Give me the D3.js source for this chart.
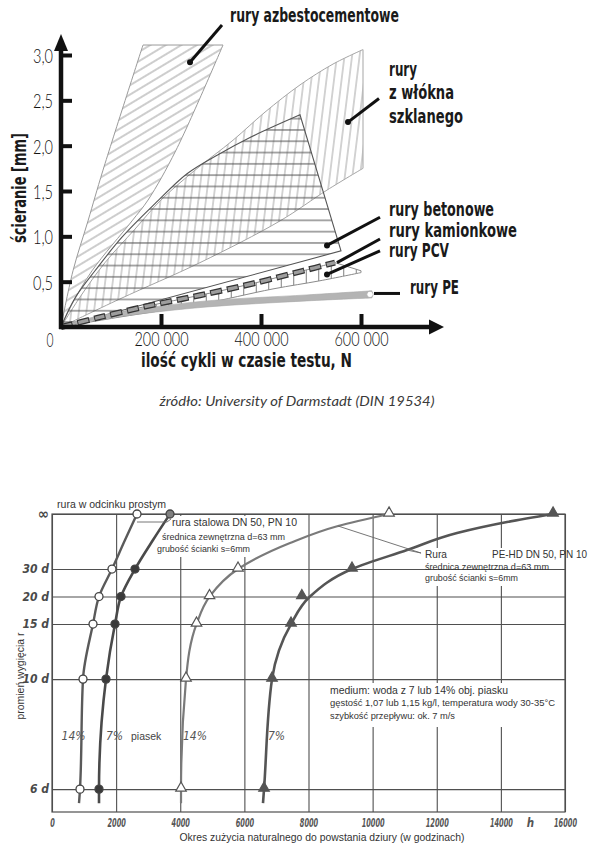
<!DOCTYPE html>
<html><head><meta charset="utf-8">
<script src="https://cdn.jsdelivr.net/npm/d3@7"></script>
<style>
body{margin:0;background:#fff;}
svg{display:block;}
</style></head><body>
<svg id="chart" width="598" height="854"></svg>
<script>
// ================= TOP CHART DATA (x: cycles N, y: abrasion mm) =================
const topYTicks = [0.5, 1.0, 1.5, 2.0, 2.5, 3.0];
const topYTickLabels = ["0,5", "1,0", "1,5", "2,0", "2,5", "3,0"];
const topXTicks = [200000, 400000, 600000];
const topXTickLabels = ["200 000", "400 000", "600 000"];

const azbestLeft  = [[0,0],[24000,0.62],[54000,1.17],[84000,1.73],[164000,3.11]];
const azbestRight = [[324000,3.11],[230000,1.95],[174000,1.40],[142000,1.17],[62000,0.62],[22000,0.25],[0,0]];

const glassTop    = [[0,0],[38000,0.33],[88000,0.71],[148000,1.08],[198000,1.39],[268000,1.73],[344000,2.06],[408000,2.37],[478000,2.67],[544000,2.90],[604000,3.06]];
const glassBottom = [[604000,1.75],[532000,1.51],[438000,1.17],[278000,0.71],[118000,0.31],[0,0]];

const betonTop    = [[0,0],[28000,0.32],[68000,0.62],[122000,0.99],[188000,1.36],[252000,1.69],[314000,1.90],[378000,2.09],[478000,2.34]];
const betonCorner = [560000,0.84];

const kamionkowe  = [[0,0],[72000,0.10],[172000,0.23],[278000,0.35],[384000,0.48],[484000,0.62],[548000,0.71]];
const pcvTip      = [600000,0.62];
const pcvBottom   = [[600000,0.60],[518000,0.51],[424000,0.42],[278000,0.25],[118000,0.11],[0,0]];

const peUpper = [[0,0],[58000,0.10],[158000,0.20],[292000,0.288],[492000,0.354],[622000,0.399]];
const peLower = [[622000,0.321],[492000,0.288],[292000,0.221],[158000,0.144],[58000,0.066],[0,0]];
const peEnd   = [618000,0.36];

const topLabels = [
  {t:"rury azbestocementowe", p:[338000,3.36], w:169},
  {t:"rury",       p:[656000,2.77],  w:28},
  {t:"z włókna",   p:[656000,2.515], w:65},
  {t:"szklanego",  p:[656000,2.25],  w:74},
  {t:"rury betonowe",   p:[656000,1.224], w:105},
  {t:"rury kamionkowe", p:[656000,0.993], w:128},
  {t:"rury PCV",        p:[656000,0.772], w:60},
  {t:"rury PE",         p:[698000,0.364], w:49}
];
const topLeaders = [
  {pts:[[322000,3.33],[258000,2.92]], dot:true},
  {pts:[[636000,2.52],[574000,2.26]], dot:true},
  {pts:[[638000,1.21],[532000,0.90]], dot:true},
  {pts:[[638000,0.97],[552000,0.71]], dot:false},
  {pts:[[638000,0.84],[532000,0.58]], dot:true},
  {pts:[[626000,0.37],[678000,0.37]], dot:false}
];

// ================= BOTTOM CHART DATA (x: hours, y: bend radius in d) =================
const hourTicks = [0,2000,4000,6000,8000,10000,12000,14000,16000];
const hourTickLabels = ["0","2000","4000","6000","8000","10000","12000","14000","16000"];
const radiusTicks = [Infinity,30,20,15,10,6];
const radiusTickLabels = ["∞","30 d","20 d","15 d","10 d","6 d"];

const steel14Curve = [[2651,Infinity],[2277,63.5],[1871,30],[1466,20],[1279,15],[967,10],[873,6],[842,5.71]];
const steel14Marks = [[2651,Infinity],[1871,30],[1466,20],[1279,15],[967,10],[873,6]];
const steel7Curve  = [[3681,Infinity],[3150,63.5],[2589,30],[2152,20],[1965,15],[1684,10],[1466,6],[1466,5.71]];
const steel7Marks  = [[3681,Infinity],[2589,30],[2152,20],[1965,15],[1684,10],[1466,6]];
const pe14Curve = [[10512,Infinity],[8921,137.5],[7424,56.9],[5802,30],[4913,20],[4507,15],[4180,10],[4024,6],[4024,5.71]];
const pe14Marks = [[10512,Infinity],[5802,30],[4913,20],[4507,15],[4180,10],[4024,6]];
const pe7Curve  = [[15627,Infinity],[14192,206],[12633,86.8],[11073,45.8],[9357,30],[8047,20],[7455,15],[6862,10],[6613,6],[6581,5.71]];
const pe7Marks  = [[15627,Infinity],[9357,30],[7793,20],[7455,15],[6862,10],[6613,6]];

const curveLabels = [
  {t:"14%", p:[300,7.3]}, {t:"7%", p:[1684,7.3]},
  {t:"14%", p:[4086,7.3]}, {t:"7%", p:[6737,7.3]}
];
const steelLeader = [[2651,206],[3587,206],[3712,330]];
const peLeaderA = [[11510,42.3],[8921,137.5]];
const peLeaderB = [[11510,42.3],[11073,45.8]];

// ================= DRAWING =================
const svg = d3.select("#chart");
svg.append("rect").attr("width",598).attr("height",854).attr("fill","#fff");
const defs = svg.append("defs");
function hatch(id, spacing, angle, color, width){
  const p = defs.append("pattern").attr("id",id).attr("patternUnits","userSpaceOnUse")
    .attr("width",spacing).attr("height",spacing).attr("patternTransform",`rotate(${angle})`);
  p.append("line").attr("x1",-1).attr("x2",spacing+1).attr("y1",spacing/2).attr("y2",spacing/2)
    .attr("stroke",color).attr("stroke-width",width);
}
hatch("hAzb", 8, -31, "#9c9c9c", 1);
hatch("hGlass", 7.5, 97, "#a8a8a8", 1);
hatch("hBet", 11.3, 0, "#505050", 1);
hatch("hPcv", 12.5, 90, "#7a7a7a", 1);

const NARROW = "'Liberation Sans Narrow','Arial Narrow','DejaVu Sans Condensed',sans-serif";
const LIGHT = "Lato,'Open Sans','Liberation Sans',sans-serif";
const SANS = "'Liberation Sans',Arial,sans-serif";

// ---------- top chart ----------
const sx = d3.scaleLinear().domain([0,600000]).range([61,361]);
const sy = d3.scaleLinear().domain([0,3]).range([327,55]);
const edge = d3.line().x(d=>sx(d[0])).y(d=>sy(d[1])).curve(d3.curveCatmullRom.alpha(0.5));
function poly(edges){
  return edges.map((e,i)=>{ const s = edge(e); return i===0 ? s : s.replace(/^M/,"L"); }).join("") + "Z";
}
const last = a => a[a.length-1];
const topG = svg.append("g");

topG.append("path").attr("d", poly([glassTop,[last(glassTop),glassBottom[0]],glassBottom]))
  .attr("fill","url(#hGlass)").attr("stroke","#a5a5a5").attr("stroke-width",1);
topG.append("path").attr("d", poly([azbestLeft,[last(azbestLeft),azbestRight[0]],azbestRight]))
  .attr("fill","url(#hAzb)").attr("stroke","#9a9a9a").attr("stroke-width",1);
topG.append("path").attr("d", poly([betonTop,[last(betonTop),betonCorner],[betonCorner,[0,0]]]))
  .attr("fill","url(#hBet)").attr("stroke","#555").attr("stroke-width",1.1);
topG.append("path").attr("d", poly([kamionkowe,[last(kamionkowe),pcvTip],[pcvTip,pcvBottom[0]],pcvBottom]))
  .attr("fill","url(#hPcv)").attr("stroke","#8a8a8a").attr("stroke-width",1);
topG.append("path").attr("d", poly([peUpper,[last(peUpper),peLower[0]],peLower]))
  .attr("fill","#b4b4b4").attr("stroke","#a8a8a8").attr("stroke-width",0.6);
topG.append("path").attr("d", edge(kamionkowe)).attr("fill","none")
  .attr("stroke","#333").attr("stroke-width",6).attr("stroke-dasharray","12,5");
topG.append("path").attr("d", edge(kamionkowe)).attr("fill","none")
  .attr("stroke","#9d9d9d").attr("stroke-width",3.4).attr("stroke-dasharray","10,7").attr("stroke-dashoffset",-1);
topG.append("circle").attr("cx",sx(peEnd[0])).attr("cy",sy(peEnd[1])).attr("r",3.2)
  .attr("fill","#fff").attr("stroke","#aaa").attr("stroke-width",0.8);

const yAx = topG.append("g").attr("transform",`translate(${sx(0)},0)`)
  .call(d3.axisLeft(sy).tickValues(topYTicks).tickFormat((d,i)=>topYTickLabels[i]).tickSize(-11).tickPadding(8));
const xAx = topG.append("g").attr("transform",`translate(0,${sy(0)})`)
  .call(d3.axisBottom(sx).tickValues(topXTicks).tickFormat((d,i)=>topXTickLabels[i]).tickSize(-13).tickPadding(6));
[yAx,xAx].forEach(g=>{
  g.select(".domain").remove();
  g.selectAll(".tick line").attr("stroke","#111").attr("stroke-width",4);
  g.selectAll("text").attr("font-family",LIGHT).attr("font-weight",300).attr("font-size",19).attr("fill","#111")
    .attr("lengthAdjust","spacingAndGlyphs");
});
yAx.selectAll("text").attr("dy","0.4em").attr("textLength",20);
xAx.selectAll("text").attr("textLength",54);
topG.append("line").attr("x1",sx(0)).attr("x2",sx(0)).attr("y1",sy(0)+2).attr("y2",48)
  .attr("stroke","#111").attr("stroke-width",4.5);
topG.append("line").attr("x1",sx(0)-2).attr("x2",432).attr("y1",sy(0)).attr("y2",sy(0))
  .attr("stroke","#111").attr("stroke-width",4.5);
topG.append("path").attr("d",`M${sx(0)},34 L${sx(0)-7},51 L${sx(0)+7},51 Z`).attr("fill","#111");
topG.append("path").attr("d",`M444,${sy(0)} L429,${sy(0)-7.5} L429,${sy(0)+7.5} Z`).attr("fill","#111");
topG.append("text").attr("x",50).attr("y",347).attr("text-anchor","middle")
  .attr("font-family",LIGHT).attr("font-weight",300).attr("font-size",19).attr("fill","#111")
  .attr("textLength",7).attr("lengthAdjust","spacingAndGlyphs").text("0");

topG.append("text").attr("x",141).attr("y",367).attr("font-family",NARROW).attr("font-weight","bold")
  .attr("font-size",19).attr("fill","#1a1a1a").attr("textLength",211).attr("lengthAdjust","spacingAndGlyphs")
  .text("ilość cykli w czasie testu, N");
topG.append("text").attr("transform","translate(26,188) rotate(-90)").attr("text-anchor","middle")
  .attr("font-family",NARROW).attr("font-weight","bold").attr("font-size",19).attr("fill","#1a1a1a")
  .attr("textLength",110).attr("lengthAdjust","spacingAndGlyphs").text("ścieranie [mm]");

topLeaders.forEach(l=>{
  topG.append("line").attr("x1",sx(l.pts[0][0])).attr("y1",sy(l.pts[0][1]))
    .attr("x2",sx(l.pts[1][0])).attr("y2",sy(l.pts[1][1])).attr("stroke","#111").attr("stroke-width",3);
  if(l.dot) topG.append("circle").attr("cx",sx(l.pts[1][0])).attr("cy",sy(l.pts[1][1])).attr("r",3).attr("fill","#111");
});
topLabels.forEach(l=>{
  topG.append("text").attr("x",sx(l.p[0])).attr("y",sy(l.p[1])).attr("font-family",NARROW)
    .attr("font-weight","bold").attr("font-size",19).attr("fill","#1a1a1a")
    .attr("textLength",l.w).attr("lengthAdjust","spacingAndGlyphs").text(l.t);
});
topG.append("text").attr("x",297).attr("y",406).attr("text-anchor","middle").attr("font-family",LIGHT)
  .attr("font-style","italic").attr("font-size",14).attr("fill","#3a3a3a")
  .attr("textLength",275).attr("lengthAdjust","spacingAndGlyphs")
  .text("źródło: University of Darmstadt (DIN 19534)");

// ---------- bottom chart ----------
const bx = d3.scaleLinear().domain([0,16000]).range([52,565]);
const inv = r => (r===Infinity ? 0 : 1/r);
const byInv = d3.scaleLinear().domain([0,1/5.54]).range([514,812]);
const by = r => byInv(inv(r));
const bot = svg.append("g");
const GRID = "#4f4f4f";

const vGrid = bot.append("g").attr("transform",`translate(0,${byInv(1/5.54)})`)
  .call(d3.axisBottom(bx).tickValues(hourTicks).tickFormat((d,i)=>hourTickLabels[i]).tickSize(-(812-514)).tickPadding(6.5));
vGrid.select(".domain").remove();
vGrid.selectAll(".tick line").attr("stroke",GRID).attr("stroke-width",1.1);
vGrid.selectAll("text").attr("font-family",NARROW).attr("font-style","italic").attr("font-weight","bold")
  .attr("font-size",11.5).attr("fill","#555")
  .attr("textLength",(d,i)=>hourTickLabels[i].length*4.6).attr("lengthAdjust","spacingAndGlyphs");

[[150,516,142,41],[422,548,134,38],[326,683,234,44]].forEach(b=>{
  bot.append("rect").attr("x",b[0]).attr("y",b[1]).attr("width",b[2]).attr("height",b[3]).attr("fill","#fff");
});

const hGrid = bot.append("g").attr("transform",`translate(${bx(0)},0)`)
  .call(d3.axisLeft(byInv).tickValues(radiusTicks.map(inv)).tickFormat((d,i)=>radiusTickLabels[i]).tickSize(-(565-52)).tickPadding(3));
hGrid.select(".domain").remove();
hGrid.selectAll(".tick line").attr("stroke",GRID).attr("stroke-width",1.1);
hGrid.selectAll("text").attr("font-family",NARROW).attr("font-style","italic").attr("font-weight","bold")
  .attr("font-size",12).attr("fill","#4a4a4a");
hGrid.selectAll(".tick").filter(d=>d===0).select("text").attr("font-size",15).attr("font-style","normal");

bot.append("rect").attr("x",bx(0)).attr("y",byInv(0)).attr("width",bx(16000)-bx(0))
  .attr("height",byInv(1/5.54)-byInv(0)).attr("fill","none").attr("stroke",GRID).attr("stroke-width",1.2);

bot.append("text").attr("x",bx(14920)).attr("y",827).attr("text-anchor","middle").attr("font-family",NARROW)
  .attr("font-style","italic").attr("font-weight","bold").attr("font-size",11.5).attr("fill","#555").text("h");

const bline = d3.line().x(d=>bx(d[0])).y(d=>by(d[1])).curve(d3.curveMonotoneY);
const series = [
  {c:steel14Curve, m:steel14Marks, col:"#5a5a5a", w:2.4, mk:"circle", fill:"#fff"},
  {c:steel7Curve,  m:steel7Marks,  col:"#4a4a4a", w:2.6, mk:"circle", fill:"#3a3a3a"},
  {c:pe14Curve,    m:pe14Marks,    col:"#7a7a7a", w:2.2, mk:"tri",    fill:"#fff"},
  {c:pe7Curve,     m:pe7Marks,     col:"#555",    w:2.6, mk:"tri",    fill:"#555"}
];
series.forEach(s=>{
  bot.append("path").attr("d",bline(s.c)).attr("fill","none").attr("stroke",s.col).attr("stroke-width",s.w);
});
const triSym = d3.symbol().type(d3.symbolTriangle).size(48);
series.forEach(s=>{
  s.m.forEach((p,i)=>{
    const f = (s.fill!=="#fff" && i===0 && s.mk==="circle") ? "#808080" : s.fill;
    if(s.mk==="circle"){
      bot.append("circle").attr("cx",bx(p[0])).attr("cy",by(p[1])).attr("r",4)
        .attr("fill",f).attr("stroke","#444").attr("stroke-width",1.3);
    } else {
      bot.append("path").attr("d",triSym()).attr("transform",`translate(${bx(p[0])},${by(p[1])-1})`)
        .attr("fill",f).attr("stroke","#555").attr("stroke-width",1.2);
    }
  });
});

const lline = d3.line().x(d=>bx(d[0])).y(d=>by(d[1]));
[steelLeader,peLeaderA,peLeaderB].forEach(l=>{
  bot.append("path").attr("d",lline(l)).attr("fill","none").attr("stroke","#666").attr("stroke-width",0.9);
});

curveLabels.forEach(l=>{
  bot.append("text").attr("x",bx(l.p[0])).attr("y",by(l.p[1])).attr("font-family",NARROW)
    .attr("font-style","italic").attr("font-size",12).attr("fill","#555").text(l.t);
});
bot.append("text").attr("x",bx(2464)).attr("y",by(7.3)).attr("font-family",SANS)
  .attr("font-size",10.5).attr("fill","#444").text("piasek");

function txt(x,y,s,size,len){
  const t = bot.append("text").attr("x",x).attr("y",y).attr("font-family",SANS).attr("font-size",size)
    .attr("fill","#333").text(s);
  if(len) t.attr("textLength",len).attr("lengthAdjust","spacingAndGlyphs");
  return t;
}
txt(57,508,"rura w odcinku prostym",10.5,109);
txt(172,526,"rura stalowa DN 50, PN 10",10.5,125);
txt(162,540,"średnica zewnętrzna d=63 mm",8.6,123);
txt(157,552,"grubość ścianki s=6mm",8.6,93);
txt(425,558,"Rura",10.5,22);
txt(492,558,"PE-HD DN 50, PN 10",10.5,95);
txt(425,570,"średnica zewnętrzna d=63 mm",8.6,124);
txt(425,581,"grubość ścianki s=6mm",8.6,93);
txt(330,694,"medium: woda z 7 lub 14% obj. piasku",10.5,178);
txt(330,706,"gęstość 1,07 lub 1,15 kg/l, temperatura wody 30-35°C",8.6,225);
txt(330,719,"szybkość przepływu: ok. 7 m/s",8.6,125);
txt(322,841,"Okres zużycia naturalnego do powstania dziury (w godzinach)",10.5,285).attr("text-anchor","middle");
bot.append("text").attr("transform","translate(24,676) rotate(-90)").attr("text-anchor","middle")
  .attr("font-family",SANS).attr("font-size",10.5).attr("fill","#333")
  .attr("textLength",87).attr("lengthAdjust","spacingAndGlyphs").text("promień wygięcia r");
</script>
</body></html>
